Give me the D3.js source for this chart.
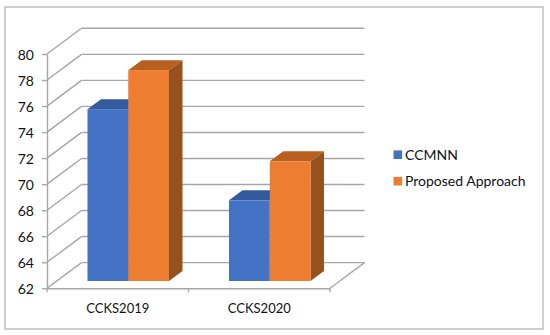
<!DOCTYPE html>
<html>
<head>
<meta charset="utf-8">
<script src="https://cdn.jsdelivr.net/npm/d3@7"></script>
<style>
  html, body { margin: 0; padding: 0; background: #fff; }
  text { font-family: Lato, "Open Sans", sans-serif; fill: #111; }
</style>
</head>
<body>
<div id="chart"></div>
<script>
// Chart data
var categories = ['CCKS2019', 'CCKS2020'];
var seriesNames = ['CCMNN', 'Proposed Approach'];
var ccmnnValues = [75.2, 68.2];
var proposedValues = [78.2, 71.2];
var yTicks = [62, 64, 66, 68, 70, 72, 74, 76, 78, 80];

var frontColors = ['#4472c4', '#ed7d31'];
var topColors = ['#345a9e', '#b85f22'];
var sideColors = ['#2f5291', '#95511e'];
var gridColor = '#a6a6a6';

var svg = d3.select('#chart')
  .append('svg')
  .attr('width', 550)
  .attr('height', 335)
  .style('display', 'block');

// Outer frame
svg.append('rect')
  .attr('x', 5)
  .attr('y', 7)
  .attr('width', 538)
  .attr('height', 322)
  .attr('fill', '#fff')
  .attr('stroke', '#bfbfbf')
  .attr('stroke-width', 1.5);

// Scales
var yScale = d3.scaleLinear().domain([62, 80]).range([288.3, 54]);
var xScale = d3.scaleBand().domain(categories).range([47, 330]);

// The bars sit part way into the depth of the box
var barShift = 10.5;
var groupScale = d3.scaleBand()
  .domain(categories)
  .range([47 + barShift, 330 + barShift])
  .paddingInner(0.424)
  .paddingOuter(0.212);
var seriesScale = d3.scaleBand()
  .domain(seriesNames)
  .range([0, groupScale.bandwidth()]);

// Depth of the back wall and of the bars
var wallDx = 34.5, wallDy = -25.7;
var barDx = 13.5, barDy = -10;
var barBaseDrop = -7.3;

// Back wall gridlines and the diagonals on the left wall
var walls = svg.append('g')
  .attr('fill', 'none')
  .attr('stroke', gridColor)
  .attr('stroke-width', 1.4);

yTicks.forEach(function(t) {
  walls.append('line')
    .attr('x1', 47 + wallDx)
    .attr('x2', 330 + wallDx)
    .attr('y1', yScale(t) + wallDy)
    .attr('y2', yScale(t) + wallDy);
  walls.append('line')
    .attr('x1', 47)
    .attr('x2', 47 + wallDx)
    .attr('y1', yScale(t))
    .attr('y2', yScale(t) + wallDy);
});

// Floor edge on the right
walls.append('line')
  .attr('x1', 330)
  .attr('x2', 330 + wallDx)
  .attr('y1', yScale(62))
  .attr('y2', yScale(62) + wallDy);

// Axes
var yAxis = svg.append('g')
  .attr('transform', 'translate(47, 0)')
  .call(d3.axisLeft(yScale).tickValues(yTicks).tickSize(5).tickSizeOuter(0).tickPadding(8));

var xAxis = svg.append('g')
  .attr('transform', 'translate(0, ' + yScale(62) + ')')
  .call(d3.axisBottom(xScale).tickSize(0).tickPadding(15));

yAxis.selectAll('line').attr('stroke', gridColor).attr('stroke-width', 1.4);
yAxis.select('.domain').attr('stroke', gridColor).attr('stroke-width', 1.4);
xAxis.select('.domain').attr('stroke', gridColor).attr('stroke-width', 1.4);
yAxis.selectAll('text').attr('dy', '0.4em').style('font-size', '14px');
xAxis.selectAll('text').style('font-size', '13px');

// Category separators on the x axis
svg.append('g')
  .selectAll('line')
  .data([47, xScale.step() + 47, 330])
  .enter()
  .append('line')
  .attr('x1', function(d) { return d; })
  .attr('x2', function(d) { return d; })
  .attr('y1', yScale(62))
  .attr('y2', yScale(62) + 4)
  .attr('stroke', gridColor)
  .attr('stroke-width', 1.4);

// Bars: flat top and side faces first, then the front
var bars = [];
categories.forEach(function(c, i) {
  bars.push({ cat: c, s: 0, value: ccmnnValues[i] });
  bars.push({ cat: c, s: 1, value: proposedValues[i] });
});

function barLeft(d) { return groupScale(d.cat) + seriesScale(seriesNames[d.s]); }
function barTop(d) { return yScale(d.value) + barBaseDrop; }
var barBottom = yScale(62) + barBaseDrop;

var barGroups = svg.append('g')
  .selectAll('g')
  .data(bars)
  .enter()
  .append('g');

barGroups.append('polygon')
  .attr('fill', function(d) { return sideColors[d.s]; })
  .attr('points', function(d) {
    var r = barLeft(d) + seriesScale.bandwidth();
    return [[r, barTop(d)], [r + barDx, barTop(d) + barDy], [r + barDx, barBottom + barDy], [r, barBottom]].join(' ');
  });

barGroups.append('polygon')
  .attr('fill', function(d) { return topColors[d.s]; })
  .attr('points', function(d) {
    var l = barLeft(d), r = l + seriesScale.bandwidth();
    return [[l, barTop(d)], [l + barDx, barTop(d) + barDy], [r + barDx, barTop(d) + barDy], [r, barTop(d)]].join(' ');
  });

barGroups.append('rect')
  .attr('fill', function(d) { return frontColors[d.s]; })
  .attr('x', barLeft)
  .attr('y', barTop)
  .attr('width', seriesScale.bandwidth())
  .attr('height', function(d) { return barBottom - barTop(d); });

// Legend
var legend = svg.append('g')
  .selectAll('g')
  .data(seriesNames)
  .enter()
  .append('g')
  .attr('transform', function(d, i) { return 'translate(393.5, ' + (154.7 + i * 26.5) + ')'; });

legend.append('rect')
  .attr('x', 0)
  .attr('y', -4.3)
  .attr('width', 8.6)
  .attr('height', 8.6)
  .attr('fill', function(d, i) { return frontColors[i]; });

legend.append('text')
  .attr('x', 11.5)
  .attr('dy', '0.35em')
  .style('font-size', '14px')
  .text(function(d) { return d; });
</script>
</body>
</html>
